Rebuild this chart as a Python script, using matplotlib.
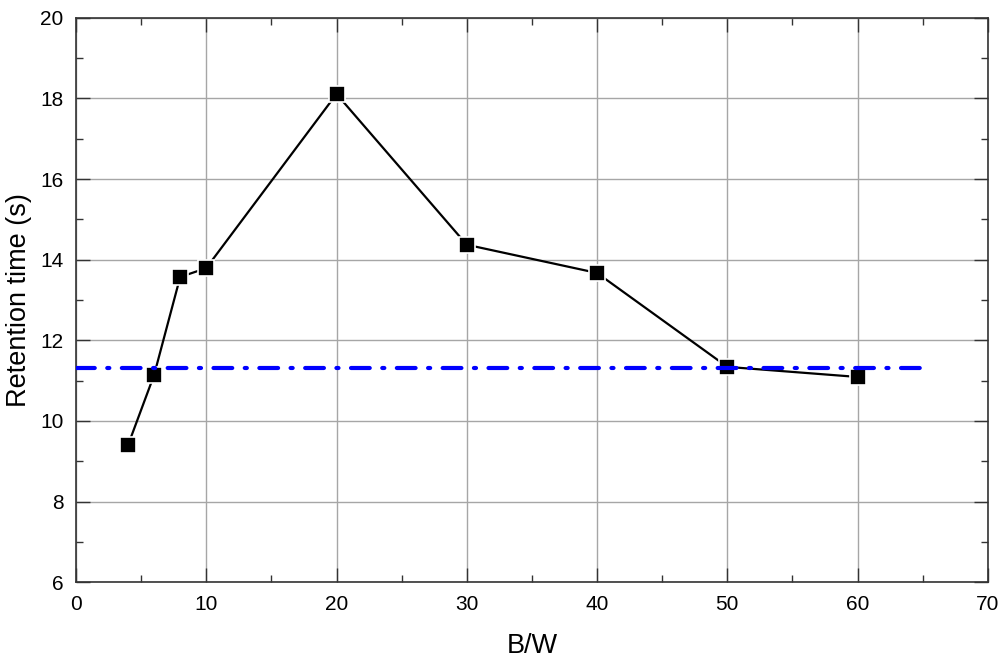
import matplotlib.pyplot as plt
from matplotlib.ticker import MultipleLocator

plt.rcParams['font.family'] = ['Liberation Sans', 'DejaVu Sans']

# B/W ratio vs retention time
bw = [4, 6, 8, 10, 20, 30, 40, 50, 60]
retention = [9.40, 11.14, 13.57, 13.79, 18.11, 14.37, 13.67, 11.34, 11.09]

# reference level (dash-dot)
ref_x = [0, 65]
ref_y = [11.30, 11.30]

fig = plt.figure(figsize=(10.06, 6.6), dpi=100)
ax = fig.add_axes([0.0755, 0.118, 0.9065, 0.855])

ax.plot(bw, retention, color='black', lw=1.6, marker='s', markersize=11,
        markerfacecolor='black', markeredgecolor='white', markeredgewidth=1.2,
        zorder=4)
# dash-dot level drawn over the data
ax.plot(ref_x, ref_y, color='blue', lw=3, linestyle=(0, (4.5, 3, 0.5, 3)),
        dash_capstyle='round', zorder=5)

ax.set_xlim(0, 70)
ax.set_ylim(6, 20)
ax.xaxis.set_major_locator(MultipleLocator(10))
ax.xaxis.set_minor_locator(MultipleLocator(5))
ax.yaxis.set_major_locator(MultipleLocator(2))
ax.yaxis.set_minor_locator(MultipleLocator(1))

ax.grid(True, which='major', color='#a6a6a6', lw=1.0)
ax.set_axisbelow(True)

ax.tick_params(which='both', direction='in', top=True, right=True,
               labelsize=15, color='#333333', pad=9)
ax.tick_params(which='major', length=10, width=1.0)
ax.tick_params(which='minor', length=5, width=1.0)
for s in ax.spines.values():
    s.set_color('#333333')
    s.set_linewidth(1.2)

ax.set_xlabel('B/W', fontsize=19.5, labelpad=14)
ax.set_ylabel('Retention time (s)', fontsize=19.5, labelpad=6)

fig.savefig('out.png', dpi=100)
